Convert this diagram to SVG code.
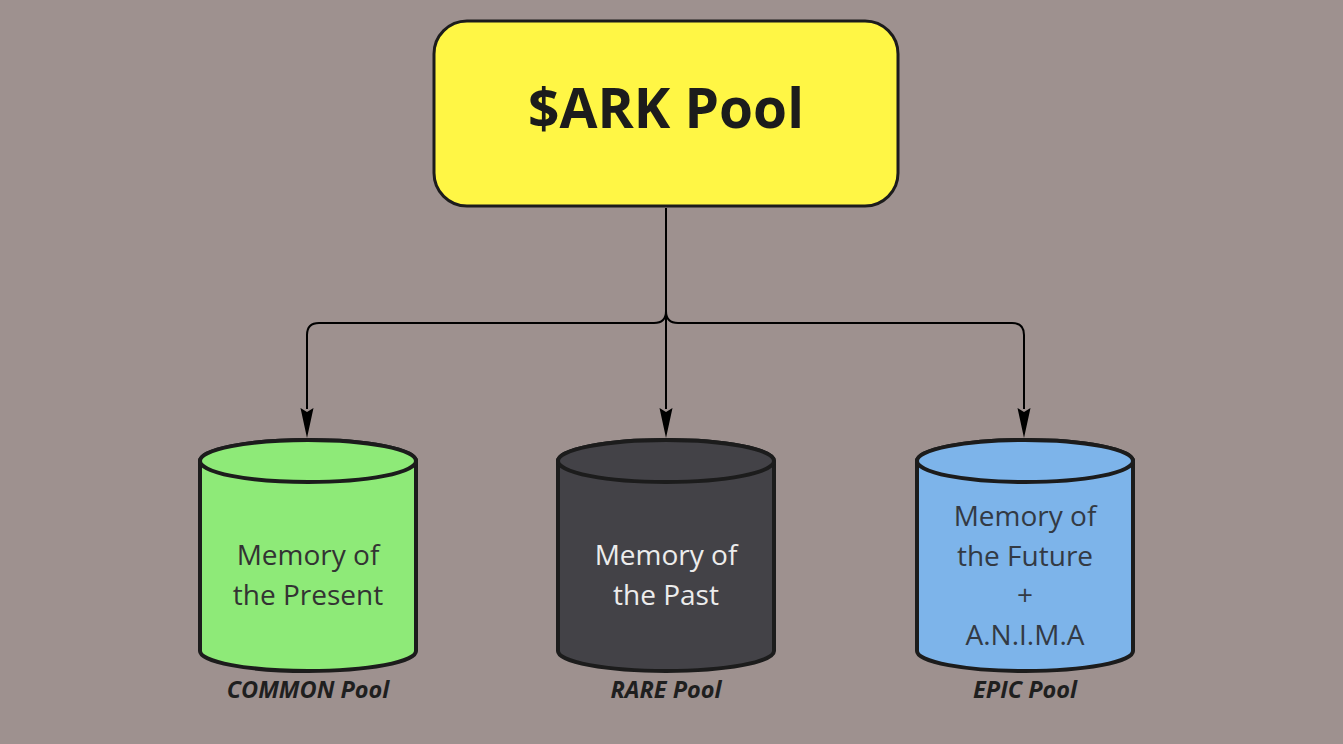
<svg xmlns="http://www.w3.org/2000/svg" width="1343" height="744" viewBox="0 0 1343 744">
<defs>
<style>
.bg{fill:#9e918f}
.box{fill:#fff645;stroke:#1c1c1c;stroke-width:3}
.title{font-family:"Open Sans","Noto Sans",sans-serif;font-weight:700;font-size:55px;fill:#1c1c1c;text-anchor:middle}
.cyl{stroke:#1c1c1c;stroke-width:4}
.txt{font-family:"Open Sans","Noto Sans",sans-serif;font-size:28px;text-anchor:middle}
.lbl{font-family:"Open Sans","Noto Sans",sans-serif;font-size:23.5px;font-weight:700;font-style:italic;fill:#1f1f1f;text-anchor:middle}
.wire{fill:none;stroke:#000;stroke-width:2}
.head{fill:#000}
</style>
</defs>
<rect class="bg" x="0" y="0" width="1343" height="744"/>
<g id="connectors">
<path class="wire" d="M666,208 L666,409"/>
<path class="wire" d="M666,208 L666,311 Q666,323 654,323 L319,323 Q307,323 307,335 L307,409"/>
<path class="wire" d="M666,311 Q666,323 678,323 L1012,323 Q1024,323 1024,335 L1024,409"/>
<path class="head" d="M300.5,408 L307,438 L313.5,408 L307,412 Z"/>
<path class="head" d="M659.5,408 L666,438 L672.5,408 L666,412 Z"/>
<path class="head" d="M1017.5,408 L1024,438 L1030.5,408 L1024,412 Z"/>
</g>
<g id="ark-pool">
<rect class="box" x="434" y="21" width="464" height="185" rx="33" ry="33"/>
<text class="title" x="666" y="128">$ARK Pool</text>
</g>
<g id="common-pool">
<path class="cyl" fill="#8eea78" d="M200,461 L200,651 A108,20 0 0 0 416,651 L416,461 A108,21 0 0 0 200,461 Z"/>
<ellipse class="cyl" fill="#8eea78" cx="308" cy="461" rx="108" ry="21"/>
<text class="txt" fill="#333333" x="308" y="565">Memory of</text>
<text class="txt" fill="#333333" x="308" y="605">the Present</text>
<text class="lbl" x="308" y="698">COMMON Pool</text>
</g>
<g id="rare-pool">
<path class="cyl" fill="#434247" d="M558,461 L558,651 A108,20 0 0 0 774,651 L774,461 A108,21 0 0 0 558,461 Z"/>
<ellipse class="cyl" fill="#434247" cx="666" cy="461" rx="108" ry="21"/>
<text class="txt" fill="#ececec" x="666" y="565">Memory of</text>
<text class="txt" fill="#ececec" x="666" y="605">the Past</text>
<text class="lbl" x="666" y="698">RARE Pool</text>
</g>
<g id="epic-pool">
<path class="cyl" fill="#7db4ea" d="M917,461 L917,651 A108,20 0 0 0 1133,651 L1133,461 A108,21 0 0 0 917,461 Z"/>
<ellipse class="cyl" fill="#7db4ea" cx="1025" cy="461" rx="108" ry="21"/>
<text class="txt" fill="#333a44" x="1025" y="526">Memory of</text>
<text class="txt" fill="#333a44" x="1025" y="566">the Future</text>
<text class="txt" fill="#333a44" x="1025" y="605">+</text>
<text class="txt" fill="#333a44" x="1025" y="645">A.N.I.M.A</text>
<text class="lbl" x="1025" y="698">EPIC Pool</text>
</g>
</svg>
